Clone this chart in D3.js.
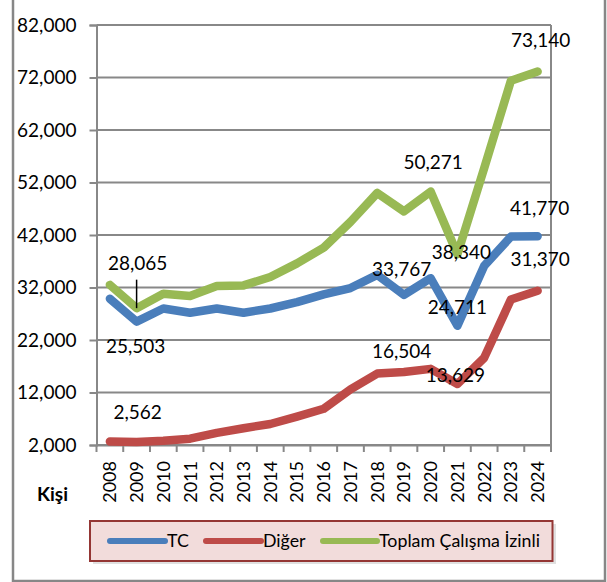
<!DOCTYPE html>
<html>
<head>
<meta charset="utf-8">
<script src="https://cdn.jsdelivr.net/npm/d3@7"></script>
<style>
  html, body { margin: 0; padding: 0; background: #ffffff; }
  svg { display: block; }
  text { font-family: Lato, "Open Sans", sans-serif; fill: #000; }
</style>
</head>
<body>
<svg id="chart" width="607" height="582"></svg>
<script>
// ---- data ----
const years = ["2008","2009","2010","2011","2012","2013","2014","2015","2016","2017","2018","2019","2020","2021","2022","2023","2024"];
const tcValues     = [29850, 25503, 28000, 27200, 28000, 27200, 28000, 29200, 30700, 31900, 34400, 30600, 33767, 24711, 36100, 41700, 41770];
const digerValues  = [2650, 2562, 2800, 3200, 4300, 5200, 6000, 7400, 8900, 12600, 15600, 15900, 16504, 13629, 18600, 29700, 31370];
const toplamValues = [32500, 28065, 30800, 30400, 32300, 32400, 34000, 36600, 39600, 44500, 50000, 46500, 50271, 38340, 54700, 71400, 73140];
const yTicks = [2000, 12000, 22000, 32000, 42000, 52000, 62000, 72000, 82000];
const seriesNames = ["TC", "Diğer", "Toplam Çalışma İzinli"];
const axisTitle = "Kişi";

const series = [
  { name: seriesNames[0], values: tcValues,     color: "#4a7ebb" },
  { name: seriesNames[1], values: digerValues,  color: "#be4b48" },
  { name: seriesNames[2], values: toplamValues, color: "#98b954" }
];

// labelled points: series index, point index, label offset (px)
const labelSpecs = [
  { s: 2, i: 1,  dx: 1,   dy: -44.5, leader: true },
  { s: 0, i: 1,  dx: -1,  dy: 25 },
  { s: 1, i: 1,  dx: 1,   dy: -29.5 },
  { s: 0, i: 12, dx: -29, dy: -9 },
  { s: 2, i: 12, dx: 2.5, dy: -29.5 },
  { s: 1, i: 12, dx: -29, dy: -17.5 },
  { s: 2, i: 13, dx: 4,   dy: -2 },
  { s: 0, i: 13, dx: 0,   dy: -18 },
  { s: 1, i: 13, dx: -2,  dy: -8.5 },
  { s: 2, i: 16, dx: 3,   dy: -31.5 },
  { s: 0, i: 16, dx: 2,   dy: -27.5 },
  { s: 1, i: 16, dx: 2.5, dy: -31 }
];

const svg = d3.select("#chart");
const fmt = d3.format(",");

// outer frame
svg.append("rect")
  .attr("x", 13).attr("y", -10).attr("width", 592).attr("height", 591)
  .attr("fill", "none").attr("stroke", "#878787").attr("stroke-width", 2.5);

const plot = { left: 96.5, right: 551, top: 25, bottom: 445 };

const x = d3.scaleBand().domain(years).range([plot.left, plot.right]).paddingInner(0).paddingOuter(0);
const y = d3.scaleLinear().domain([2000, 82000]).range([plot.bottom, plot.top]);
const cx = d => x(d) + x.bandwidth() / 2;

// gridlines
svg.append("g").selectAll("line").data(yTicks).join("line")
  .attr("x1", plot.left).attr("x2", plot.right)
  .attr("y1", d => y(d)).attr("y2", d => y(d))
  .attr("stroke", "#888888").attr("stroke-width", 2);

// right border of plot area
svg.append("line")
  .attr("x1", plot.right).attr("x2", plot.right)
  .attr("y1", plot.top).attr("y2", plot.bottom)
  .attr("stroke", "#888888").attr("stroke-width", 2);

// y axis
const yAxis = d3.axisLeft(y).tickValues(yTicks).tickFormat(fmt).tickSize(7).tickPadding(13);
const gy = svg.append("g").attr("transform", `translate(${plot.left},0)`).call(yAxis);
gy.select(".domain").attr("stroke", "#888888").attr("stroke-width", 2);
gy.selectAll(".tick line").attr("stroke", "#888888").attr("stroke-width", 2);
gy.selectAll(".tick text").attr("font-size", 19).attr("font-family", "Lato, sans-serif").attr("fill", "#000");

// x axis: ticks at category boundaries
const xAxis = d3.axisBottom(x).tickSize(0).tickPadding(0);
const gx = svg.append("g").attr("transform", `translate(0,${plot.bottom})`).call(xAxis);
gx.select(".domain").attr("stroke", "#888888").attr("stroke-width", 2);
gx.selectAll(".tick text")
  .attr("font-size", 18).attr("font-family", "Lato, sans-serif").attr("fill", "#000")
  .attr("text-anchor", "end")
  .attr("transform", "translate(0,16) rotate(-90)")
  .attr("x", 0).attr("y", 0).attr("dy", "0.36em");
const boundaries = years.map(d => x(d)).concat([plot.right]);
svg.append("g").selectAll("line").data(boundaries).join("line")
  .attr("x1", d => d).attr("x2", d => d)
  .attr("y1", plot.bottom).attr("y2", plot.bottom + 7)
  .attr("stroke", "#888888").attr("stroke-width", 2);

// axis title
svg.append("text").attr("x", 52.5).attr("y", 501)
  .attr("text-anchor", "middle").attr("font-weight", "bold").attr("font-size", 19)
  .text(axisTitle);

// lines
const line = d3.line().x((d, i) => cx(years[i])).y(d => y(d));
svg.append("g").selectAll("path").data(series).join("path")
  .attr("d", d => line(d.values))
  .attr("fill", "none").attr("stroke", d => d.color)
  .attr("stroke-width", 8.5).attr("stroke-linejoin", "round").attr("stroke-linecap", "round");

// labels
const lg = svg.append("g");
labelSpecs.forEach(l => {
  const v = series[l.s].values[l.i];
  const px = cx(years[l.i]), py = y(v);
  if (l.leader) {
    lg.append("line").attr("x1", px).attr("x2", px)
      .attr("y1", py + l.dy + 16).attr("y2", py)
      .attr("stroke", "#000").attr("stroke-width", 1.5);
  }
  lg.append("text").attr("x", px + l.dx).attr("y", py + l.dy)
    .attr("dy", "0.35em").attr("text-anchor", "middle").attr("font-size", 19)
    .text(fmt(v));
});

// legend
const legend = svg.append("g");
legend.append("rect").attr("x", 93).attr("y", 524).attr("width", 463).attr("height", 40)
  .attr("fill", "#000").attr("opacity", 0.12);
legend.append("rect").attr("x", 90).attr("y", 521).attr("width", 462.5).attr("height", 40)
  .attr("fill", "#f2dcdb").attr("stroke", "#943634").attr("stroke-width", 2);
const legendItems = [
  { s: 0, x1: 110, x2: 165, tx: 167 },
  { s: 1, x1: 206, x2: 261, tx: 263 },
  { s: 2, x1: 323, x2: 377, tx: 379 }
];
legendItems.forEach(it => {
  legend.append("line").attr("x1", it.x1).attr("x2", it.x2).attr("y1", 541).attr("y2", 541)
    .attr("stroke", series[it.s].color).attr("stroke-width", 6).attr("stroke-linecap", "round");
  legend.append("text").attr("x", it.tx).attr("y", 541).attr("dy", "0.35em")
    .attr("font-size", 17.8).text(series[it.s].name);
});
</script>
</body>
</html>
